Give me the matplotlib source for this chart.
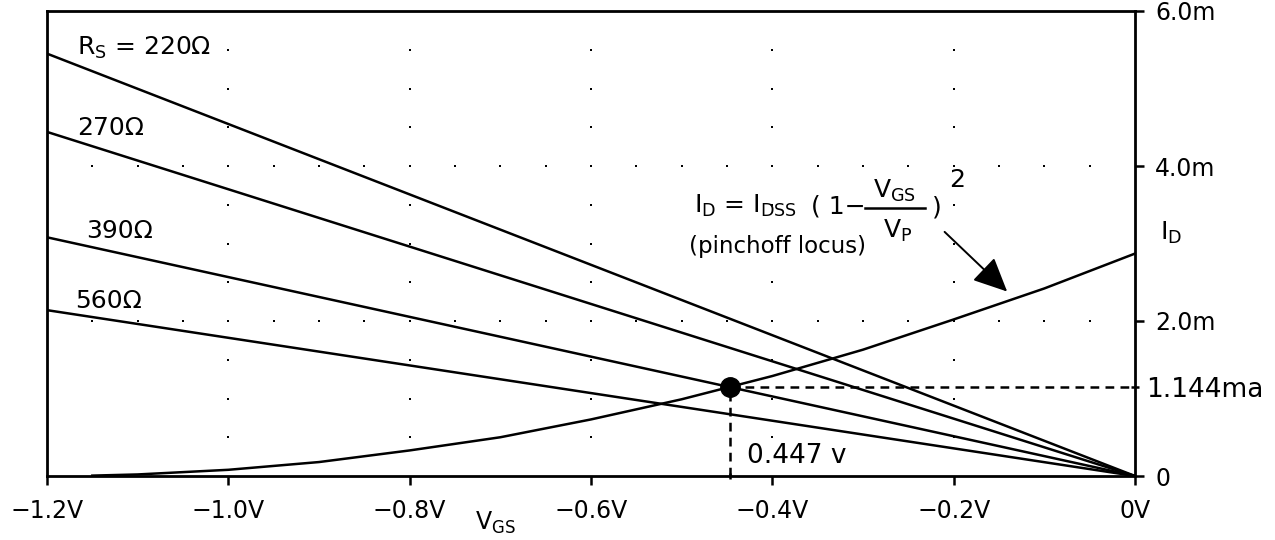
import matplotlib.pyplot as plt
import numpy as np

# self-bias load lines, I_D = -V_GS / R_S, given at the two ends of the sweep
rs_labels = [r'R$_\mathregular{S}$ = 220Ω', '270Ω', '390Ω', '560Ω']
vgs_ends = [-1.2, 0.0]
id_left = [5.45, 4.44, 3.08, 2.14]   # mA at V_GS = -1.2 V
label_xy = [(-1.167, 5.43), (-1.167, 4.40), (-1.157, 3.07), (-1.169, 2.17)]

# pinchoff locus (transfer curve), V and mA
vgs_curve = [-1.15, -1.1, -1.0, -0.9, -0.8, -0.7, -0.6, -0.5, -0.4, -0.3, -0.2, -0.1, 0.0]
id_curve = [0.005, 0.02, 0.08, 0.18, 0.33, 0.50, 0.73, 0.99, 1.29, 1.63, 2.02, 2.42, 2.87]

# operating point
q_vgs = -0.447
q_id = 1.144

x_ticks = [-1.2, -1.0, -0.8, -0.6, -0.4, -0.2, 0.0]
x_labels = ['−1.2V', '−1.0V', '−0.8V', '−0.6V', '−0.4V', '−0.2V', '0V']
y_ticks = [0, 2, 4, 6]
y_labels = ['0', '2.0m', '4.0m', '6.0m']

plt.rcParams['font.family'] = ['DejaVu Sans']
plt.rcParams['mathtext.default'] = 'regular'

fig = plt.figure(figsize=(12.75, 5.4), dpi=100)
ax = fig.add_axes([47 / 1275, 1 - 476 / 540, (1135 - 47) / 1275, (476 - 11) / 540])
ax.set_xlim(-1.2, 0)
ax.set_ylim(0, 6)

# dotted grid: columns at the major V ticks, rows at the major I ticks
gx = []
gy = []
for xv in x_ticks[1:-1]:
    for yv in np.arange(0.5, 6.0, 0.5):
        gx.append(xv)
        gy.append(yv)
for yv in y_ticks[1:-1]:
    for xv in np.arange(-1.15, -0.01, 0.05):
        gx.append(xv)
        gy.append(yv)
ax.plot(gx, gy, 's', color='k', markersize=1.8, markeredgewidth=0, zorder=1)

lw = 1.8
for lab, i0, (tx, ty) in zip(rs_labels, id_left, label_xy):
    ax.plot(vgs_ends, [i0, 0], color='k', lw=lw, zorder=3)
    ax.text(tx, ty, lab, fontsize=18, ha='left', va='baseline')

ax.plot(vgs_curve, id_curve, color='k', lw=lw, zorder=3)

# operating point with dashed projections
ax.plot([q_vgs, 0], [q_id, q_id], color='k', lw=lw, dashes=(3.5, 2.5), zorder=2)
ax.plot([q_vgs, q_vgs], [0, q_id], color='k', lw=lw, dashes=(3.5, 2.5), zorder=2)
ax.plot(q_vgs, q_id, 'o', color='k', markersize=14, zorder=4)
ax.text(-0.428, 0.17, '0.447 v', fontsize=19, ha='left', va='baseline')

# pinchoff locus equation
fs = 18
ax.text(-0.486, 3.39, r'I$_\mathregular{D}$ = I$_\mathregular{DSS}$', fontsize=fs, ha='left', va='baseline')
ax.text(-0.357, 3.39, '( 1−', fontsize=fs, ha='left', va='baseline')
ax.plot([-0.298, -0.232], [3.46, 3.46], color='k', lw=lw)
ax.text(-0.265, 3.59, r'V$_\mathregular{GS}$', fontsize=fs, ha='center', va='baseline')
ax.text(-0.262, 3.07, r'V$_\mathregular{P}$', fontsize=fs, ha='center', va='baseline')
ax.text(-0.224, 3.37, ')', fontsize=fs, ha='left', va='baseline')
ax.text(-0.205, 3.73, '2', fontsize=fs, ha='left', va='baseline')
ax.text(-0.492, 2.88, '(pinchoff locus)', fontsize=16.5, ha='left', va='baseline')
ax.annotate('', xy=(-0.141, 2.38), xytext=(-0.210, 3.15),
            arrowprops=dict(arrowstyle='-|>,head_length=1.5,head_width=0.7',
                            mutation_scale=14, color='k', lw=1.4, shrinkA=0, shrinkB=0))

# axes, ticks and labels
for sp in ax.spines.values():
    sp.set_linewidth(2)
ax.yaxis.tick_right()
ax.set_xticks(x_ticks, x_labels)
ax.set_yticks(y_ticks, y_labels)
ax.set_xticks([q_vgs], minor=True)
ax.set_yticks([q_id], ['1.144ma'], minor=True)
ax.tick_params(axis='both', which='major', direction='out', length=6.5, width=1.8, labelsize=17)
ax.tick_params(axis='x', which='major', pad=10)
ax.tick_params(axis='y', which='major', pad=8)
ax.tick_params(axis='x', which='minor', direction='inout', length=5, width=1.8)
ax.tick_params(axis='y', which='minor', direction='inout', length=6, width=1.8, labelsize=19, pad=5)

ax.text(0.0276, 3.05, r'I$_\mathregular{D}$', fontsize=18, ha='left', va='baseline', clip_on=False)
ax.text(-0.728, -0.70, r'V$_\mathregular{GS}$', fontsize=17, ha='left', va='baseline', clip_on=False)

fig.savefig('out.png', dpi=100)
